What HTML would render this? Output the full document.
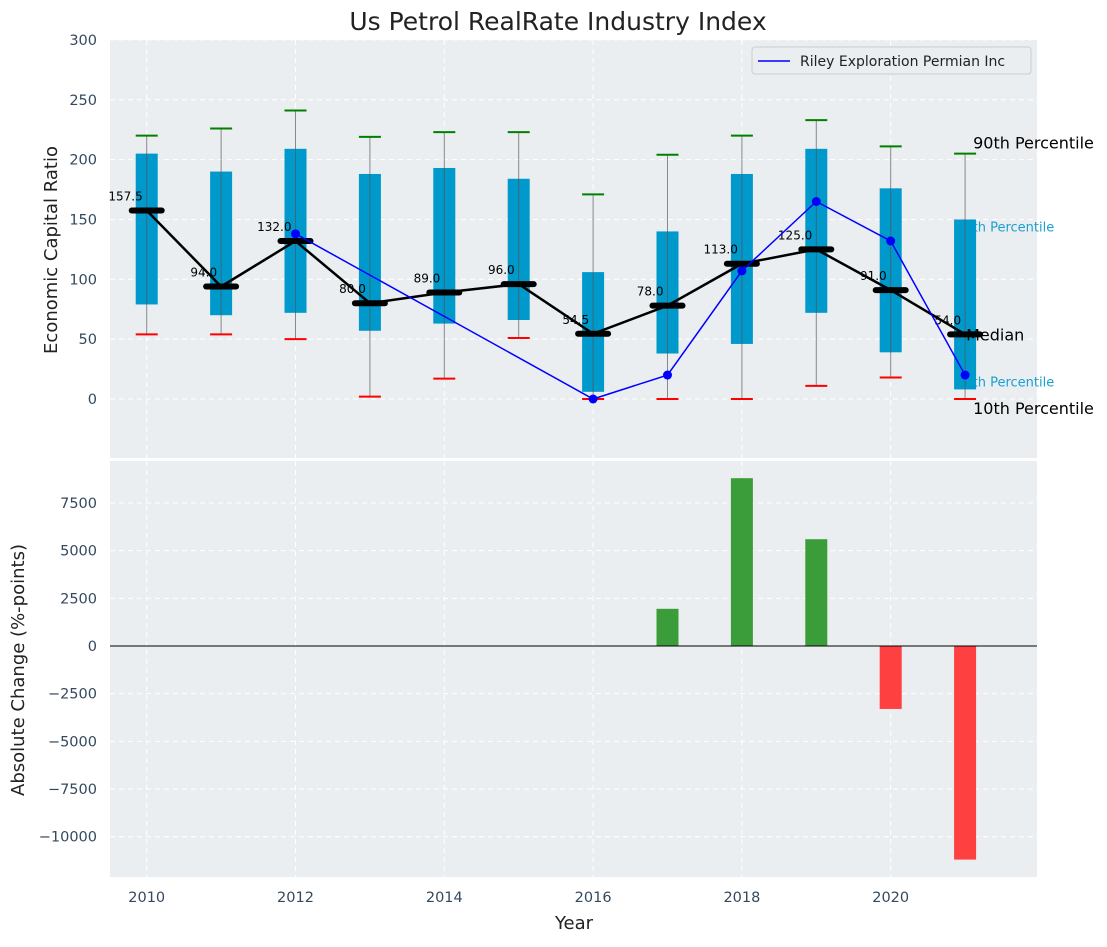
<!DOCTYPE html>
<html><head><meta charset="utf-8"><style>
body{margin:0;background:#fff;}
svg{font-family:"DejaVu Sans","Liberation Sans",sans-serif;}
</style></head><body>
<svg id="c" width="1107" height="942"></svg>
<script>
const years=[2010,2011,2012,2013,2014,2015,2016,2017,2018,2019,2020,2021];
const p10=[54,54,50,2,17,51,0,0,0,11,18,0];
const p25=[79,70,72,57,63,66,6,38,46,72,39,8];
const p75=[205,190,209,188,193,184,106,140,188,209,176,150];
const p90=[220,226,241,219,223,223,171,204,220,233,211,205];
const medians=[157.5,94,132,80,89,96,54.5,78,113,125,91,54];
const companyYears=[2012,2016,2017,2018,2019,2020,2021];
const companyValues=[138,0,20,107,165,132,20];
const changeYears=[2017,2018,2019,2020,2021];
const changeValues=[1950,8800,5600,-3300,-11200];
const topTicks=[0,50,100,150,200,250,300];
const botTicks=[-10000,-7500,-5000,-2500,0,2500,5000,7500];
const xTicks=[2010,2012,2014,2016,2018,2020];

const NS="http://www.w3.org/2000/svg";
const svg=document.getElementById('c');
function el(t,a,p){const e=document.createElementNS(NS,t);for(const k in a)e.setAttribute(k,a[k]);(p||svg).appendChild(e);return e;}
const L=110,R=1037;
const x=v=>L+1+(v-2009.52)/(2021.98-2009.52)*(R-L);
const yT=v=>399-v*1.197;
const yB=v=>646-v*0.01907;

let e=el('rect',{x:L,y:40,width:R-L,height:418,fill:'#eaeef0'});

e=el('rect',{x:L,y:461,width:R-L,height:416,fill:'#eaeef0'});


topTicks.forEach(t=>{el('line',{x1:L,x2:R,y1:yT(t),y2:yT(t),stroke:'#fff','stroke-dasharray':'5,4','stroke-width':1});
 const tx=el('text',{x:97,y:yT(t)+5,'text-anchor':'end','font-size':14.5,fill:'#34495e'});tx.textContent=t;
 });
botTicks.forEach(t=>{el('line',{x1:L,x2:R,y1:yB(t),y2:yB(t),stroke:'#fff','stroke-dasharray':'5,4','stroke-width':1});
 const tx=el('text',{x:97,y:yB(t)+5,'text-anchor':'end','font-size':14.5,fill:'#34495e'});tx.textContent=t<0?'\u2212'+(-t):t;
 });
xTicks.forEach(t=>{
 el('line',{x1:x(t),x2:x(t),y1:40,y2:458,stroke:'#fff','stroke-dasharray':'5,4'});
 el('line',{x1:x(t),x2:x(t),y1:461,y2:877,stroke:'#fff','stroke-dasharray':'5,4'});
 const tx=el('text',{x:x(t),y:902,'text-anchor':'middle','font-size':14.5,fill:'#34495e'});tx.textContent=t;
 });

const ax=x(2021)+8;
function ann(txt,xx,yy,sz,col,name){const t=el('text',{x:xx,y:yy,'font-size':sz,fill:col});t.textContent=txt;
 }
ann('75th Percentile',x(2021)-9,yT(p75[11])+12,13,'#1a9fd0','p75-annotation');
ann('25th Percentile',x(2021)-9,yT(p25[11])-3,13,'#1a9fd0','p25-annotation');

years.forEach((yr,i)=>{
 const cx=x(yr);
 let w=el('line',{x1:cx,x2:cx,y1:yT(p10[i]),y2:yT(p90[i]),stroke:'#888','stroke-width':1});
 
 let b=el('rect',{x:cx-11,y:yT(p75[i]),width:22,height:yT(p25[i])-yT(p75[i]),fill:'#0099cc'});
 
 el('line',{x1:cx,x2:cx,y1:yT(p25[i]),y2:yT(p75[i]),stroke:'#555','stroke-width':1,opacity:0.7});
 let g=el('line',{x1:cx-11,x2:cx+11,y1:yT(p90[i]),y2:yT(p90[i]),stroke:'green','stroke-width':2});
 
 let r=el('line',{x1:cx-11,x2:cx+11,y1:yT(p10[i]),y2:yT(p10[i]),stroke:'red','stroke-width':2});
 
});
let mp=el('polyline',{points:years.map((yr,i)=>x(yr)+','+yT(medians[i])).join(' '),fill:'none',stroke:'#000','stroke-width':2.5});

years.forEach((yr,i)=>{
 let m=el('line',{x1:x(yr)-15,x2:x(yr)+15,y1:yT(medians[i]),y2:yT(medians[i]),stroke:'#000','stroke-width':6,'stroke-linecap':'round'});
 
 let t=el('text',{x:x(yr)-4,y:yT(medians[i])-10,'text-anchor':'end','font-size':12,fill:'#000'});
 t.textContent=medians[i].toFixed(1);
 
});
let cp=el('polyline',{points:companyYears.map((yr,i)=>x(yr)+','+yT(companyValues[i])).join(' '),fill:'none',stroke:'#0000ff','stroke-width':1.5});

companyYears.forEach((yr,i)=>{let c=el('circle',{cx:x(yr),cy:yT(companyValues[i]),r:4.5,fill:'#0000ff'});
 });

ann('90th Percentile',ax,yT(p90[11])-5,16,'#000','p90-annotation');
ann('Median',ax-7,yT(medians[11])+6,16,'#000','median-annotation');
ann('10th Percentile',ax,yT(p10[11])+15,16,'#000','p10-annotation');

let lg=el('g',{});
el('rect',{x:752,y:47,width:279,height:27,rx:3,fill:'#eaeef0',stroke:'#ccc'},lg);
el('line',{x1:758,x2:790,y1:61,y2:61,stroke:'#0000ff','stroke-width':1.5},lg);
let lt=el('text',{x:800,y:66,'font-size':14,fill:'#222'},lg);lt.textContent='Riley Exploration Permian Inc';

changeYears.forEach((yr,i)=>{const v=changeValues[i];
 let b=el('rect',{x:x(yr)-11,y:Math.min(yB(v),yB(0)),width:22,height:Math.abs(yB(v)-yB(0)),fill:v>=0?'#3a9d3a':'#ff4040'});
 });
el('line',{x1:L,x2:R,y1:yB(0),y2:yB(0),stroke:'#000','stroke-width':1});

let t=el('text',{x:558,y:30,'text-anchor':'middle','font-size':25,fill:'#222'});t.textContent='Us Petrol RealRate Industry Index';

t=el('text',{x:574,y:929,'text-anchor':'middle','font-size':18,fill:'#222'});t.textContent='Year';

t=el('text',{x:57,y:250,'text-anchor':'middle','font-size':18,fill:'#222',transform:'rotate(-90 57 250)'});t.textContent='Economic Capital Ratio';

t=el('text',{x:24,y:670,'text-anchor':'middle','font-size':18,fill:'#222',transform:'rotate(-90 24 670)'});t.textContent='Absolute Change (%-points)';

</script>
</body></html>
